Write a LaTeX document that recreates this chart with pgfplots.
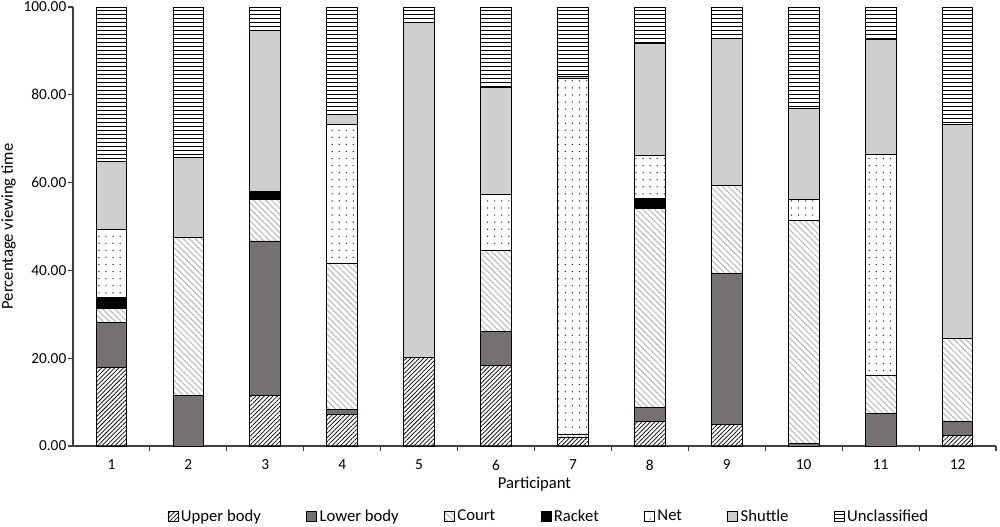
\documentclass[border=0pt]{standalone}
\usepackage{pgfplots}
\pgfplotsset{compat=1.18}
\usepackage{pgfplotstable}
\usepackage{fontspec}
\setmainfont{Carlito}
\usetikzlibrary{patterns.meta}
\definecolor{lowergray}{HTML}{767171}
\definecolor{shuttlegray}{HTML}{D0CECE}
\definecolor{courtgray}{HTML}{BFBFBF}
\pgfplotstableread{
p upper lower court racket net shuttle uncl
1 18.0 10.2 3.2 2.4 15.6 15.5 35.1
2 0 11.6 35.9 0 0 18.3 34.2
3 11.6 35.1 9.5 1.7 0 36.8 5.3
4 7.2 1.1 33.3 0 31.7 2.3 24.4
5 20.2 0 0 0 0 76.2 3.6
6 18.3 7.8 18.5 0 12.6 24.4 18.4
7 1.9 0 0.8 0 81.1 0.3 15.9
8 5.5 3.3 45.2 2.4 9.7 25.5 8.4
9 5.0 34.4 19.9 0 0 33.6 7.1
10 0 0.6 50.7 0 4.8 20.8 23.1
11 0 7.3 8.7 0 50.3 26.3 7.4
12 2.3 3.2 18.9 0 0 48.8 26.8
}\datatable
\begin{document}
\begin{tikzpicture}[x=0.75pt,y=0.75pt]
\path[use as bounding box] (-73,-80) rectangle (927,446);
\begin{axis}[
  at={(0,0)}, anchor=origin,
  scale only axis,
  width=692.25pt, height=329.25pt,
  ybar stacked,
  bar width=0.4,
  xmin=0.5, xmax=12.5,
  ymin=0, ymax=100,
  axis lines=left,
  axis line style={-, black!75, line width=0.8pt},
  xtick={1,...,12},
  major x tick style={draw=none},
  minor xtick={1.5,2.5,...,12.5},
  minor tick length=4pt,
  minor x tick style={black!75, line width=0.8pt},
  ytick={0,20,...,100},
  major tick length=4pt,
  tick align=outside,
  y tick style={black!75, line width=0.8pt},
  yticklabel style={/tikz/xshift=2.5pt, /pgf/number format/.cd, fixed, fixed zerofill, precision=2, assume math mode=true},
  ticklabel style={font=\fontsize{11.5}{13}\selectfont, /pgf/number format/assume math mode=true},
  xticklabel style={yshift=-3pt},
  xlabel={Participant},
  ylabel={Percentage viewing time},
  label style={font=\fontsize{12.5}{14}\selectfont},
  xlabel style={yshift=2pt},
  ylabel style={yshift=-1pt},
  legend style={at={(0.516,-0.16)}, anchor=center, draw=none, font=\fontsize{12.5}{14}\selectfont,
    legend columns=7, /tikz/every even column/.append style={column sep=32pt}},
  legend image code/.code={\draw[#1, line width=0.5pt] (0pt,-3.6pt) rectangle (7.5pt,3.9pt);},
  every axis plot/.append style={draw=black, line width=0.7pt},
]
\addplot[pattern={Lines[angle=45,distance=2.3pt,line width=0.55pt]}, pattern color=black] table[x=p,y=upper]{\datatable};
\addplot[fill=lowergray] table[x=p,y=lower]{\datatable};
\addplot[pattern={Lines[angle=-45,distance=3.2pt,line width=0.9pt]}, pattern color=courtgray] table[x=p,y=court]{\datatable};
\addplot[fill=black] table[x=p,y=racket]{\datatable};
\addplot[pattern={Dots[distance=5.3pt,radius=0.55pt]}, pattern color=black!85] table[x=p,y=net]{\datatable};
\addplot[fill=shuttlegray] table[x=p,y=shuttle]{\datatable};
\addplot[pattern={Lines[angle=0,distance=3pt,line width=0.55pt]}, pattern color=black] table[x=p,y=uncl]{\datatable};
\legend{Upper body,Lower body,Court,Racket,Net,Shuttle,Unclassified}
\end{axis}
\end{tikzpicture}
\end{document}
